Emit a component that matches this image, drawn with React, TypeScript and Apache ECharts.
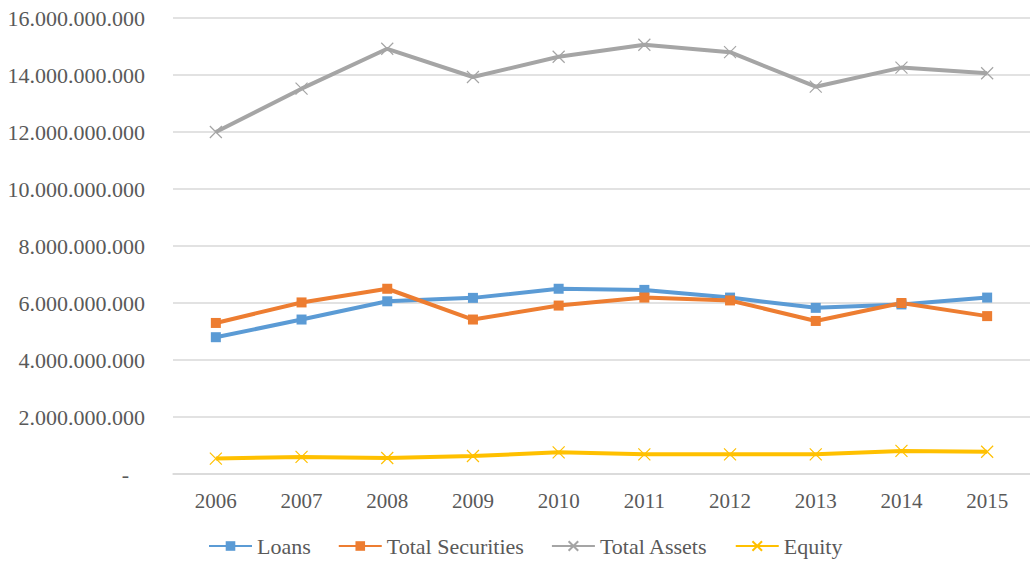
import React, { useEffect, useRef } from "react";
import * as echarts from "echarts";

const years = ["2006", "2007", "2008", "2009", "2010", "2011", "2012", "2013", "2014", "2015"];
const loans = [4.8e9, 5.42e9, 6.06e9, 6.18e9, 6.5e9, 6.46e9, 6.19e9, 5.83e9, 5.95e9, 6.19e9];
const totalSecurities = [5.3e9, 6.02e9, 6.5e9, 5.42e9, 5.91e9, 6.19e9, 6.09e9, 5.37e9, 6.0e9, 5.54e9];
const totalAssets = [12.0e9, 13.52e9, 14.92e9, 13.93e9, 14.64e9, 15.06e9, 14.8e9, 13.59e9, 14.26e9, 14.06e9];
const equity = [0.54e9, 0.6e9, 0.56e9, 0.63e9, 0.76e9, 0.69e9, 0.69e9, 0.69e9, 0.81e9, 0.78e9];

const CROSS = "path://M0,0L10,10M10,0L0,10";
const FONT = "'Liberation Serif', 'Times New Roman', serif";
const TEXT = "#595959";

function fmt(v: number): string {
  if (v === 0) return "{d|-}";
  return String(Math.round(v)).replace(/\B(?=(\d{3})+(?!\d))/g, ".");
}

export default function App() {
  const ref = useRef<HTMLDivElement>(null);

  useEffect(() => {
    document.body.style.margin = "0";
    const chart = echarts.init(ref.current!, null, { renderer: "svg" });

    const squareSeries = (name: string, data: number[], color: string) => ({
      name,
      type: "line",
      data,
      symbol: "rect",
      symbolSize: 10,
      lineStyle: { color, width: 4 },
      itemStyle: { color },
    });
    const crossSeries = (name: string, data: number[], color: string) => ({
      name,
      type: "line",
      data,
      symbol: CROSS,
      symbolSize: 12,
      lineStyle: { color, width: 4 },
      itemStyle: { color: "none", borderColor: color, borderWidth: 1.2 },
    });

    chart.setOption({
      animation: false,
      backgroundColor: "#ffffff",
      grid: { left: 173, right: 0, top: 18, bottom: 91 },
      legend: {
        bottom: 3,
        left: 203,
        itemWidth: 43,
        itemHeight: 12,
        itemGap: 27,
        textStyle: { fontFamily: FONT, fontSize: 22, color: TEXT },
        data: ["Loans", "Total Securities", "Total Assets", "Equity"],
      },
      xAxis: {
        type: "category",
        data: years,
        boundaryGap: true,
        axisLine: { lineStyle: { color: "#d9d9d9", width: 1.5 } },
        axisTick: { show: false },
        axisLabel: { fontFamily: FONT, fontSize: 21, color: TEXT, margin: 16 },
      },
      yAxis: {
        type: "value",
        min: 0,
        max: 16e9,
        interval: 2e9,
        axisLine: { show: false },
        axisTick: { show: false },
        splitLine: { lineStyle: { color: "#d9d9d9", width: 1.5 } },
        axisLabel: {
          fontFamily: FONT,
          fontSize: 22,
          color: TEXT,
          margin: 28,
          formatter: fmt,
          rich: { d: { fontFamily: FONT, fontSize: 22, color: TEXT, padding: [0, 16, 0, 0] } },
        },
      },
      series: [
        squareSeries("Loans", loans, "#5B9BD5"),
        squareSeries("Total Securities", totalSecurities, "#ED7D31"),
        crossSeries("Total Assets", totalAssets, "#A5A5A5"),
        crossSeries("Equity", equity, "#FFC000"),
      ],
    });

    return () => chart.dispose();
  }, []);

  return <div ref={ref} style={{ width: 1030, height: 565 }} />;
}
